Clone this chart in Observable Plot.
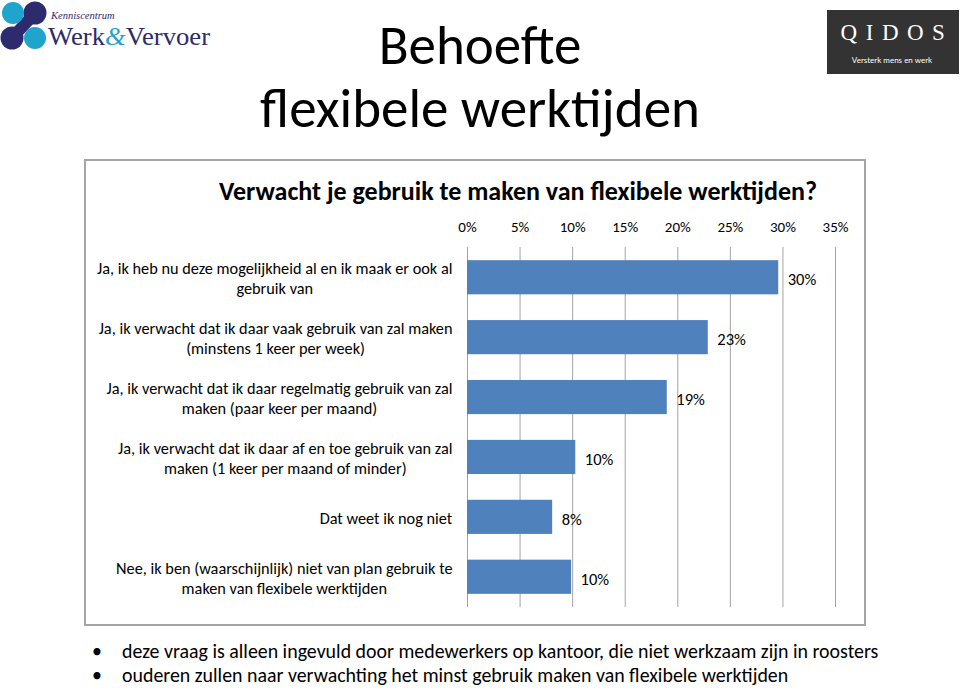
<!DOCTYPE html>
<html>
<head>
<meta charset="utf-8">
<script src="https://cdn.jsdelivr.net/npm/d3@7"></script>
<script src="https://cdn.jsdelivr.net/npm/@observablehq/plot@0.6"></script>
<style>
  body { margin: 0; background: #fff; }
  #page { position: relative; width: 960px; height: 688px; overflow: hidden; background: #fff;
          font-family: Calibri, Carlito, Lato, "Open Sans", sans-serif; color: #000; }
  .slide-title { position: absolute; left: 0; width: 960px; text-align: center; font-size: 55px; line-height: 1; white-space: nowrap; }
  #box { position: absolute; left: 84px; top: 159px; width: 782px; height: 467px; box-sizing: border-box;
         border: 2px solid #a5a5a5; }
  #chart-title { position: absolute; left: 43px; width: 778px; top: 15px; text-align: center; font-weight: bold;
                 font-size: 26px; line-height: 1.2; white-space: nowrap; }
  #plot { position: absolute; left: 0; top: 44px; }
  #bullets { position: absolute; left: 92px; top: 639px; margin: 0; padding: 0; list-style: none;
             font-size: 19.9px; line-height: 24px; white-space: nowrap; }
  #bullets li { position: relative; padding-left: 30px; }
  #bullets li::before { content: "•"; position: absolute; left: 0; }
</style>
</head>
<body>
<div id="page">
  <!-- Kenniscentrum Werk & Vervoer logo -->
  <svg style="position:absolute;left:0;top:0" width="220" height="60">
    <line x1="35" y1="13" x2="12" y2="38" stroke="#2d2a6e" stroke-width="12"/>
    <circle cx="35" cy="13" r="11.5" fill="#2d2a6e"/>
    <circle cx="12" cy="38" r="11.5" fill="#2d2a6e"/>
    <circle cx="13" cy="13" r="11" fill="#1fa4cc"/>
    <circle cx="35" cy="38" r="11" fill="#1fa4cc"/>
    <text x="51" y="19" font-family="Liberation Serif, serif" font-style="italic" font-size="10.5" fill="#2d2a6e">Kenniscentrum</text>
    <text x="48" y="45" font-family="Liberation Serif, serif" font-size="26" fill="#2d2a6e" textLength="162" lengthAdjust="spacingAndGlyphs">Werk<tspan fill="#1fa4cc" font-style="italic">&amp;</tspan>Vervoer</text>
  </svg>
  <!-- QIDOS logo -->
  <svg style="position:absolute;left:827px;top:10px" width="132" height="64">
    <rect x="0" y="0" width="132" height="64" fill="#333"/>
    <text x="70" y="30" text-anchor="middle" font-family="Liberation Serif, serif" font-size="23" letter-spacing="8.5" fill="#fff">QIDOS</text>
    <text x="65" y="53" text-anchor="middle" font-family="Lato, sans-serif" font-size="8" fill="#fff">Versterk mens en werk</text>
  </svg>

  <div class="slide-title" style="top:18px">Behoefte</div>
  <div class="slide-title" style="top:81px">flexibele werktijden</div>

  <div id="box">
    <div id="chart-title">Verwacht je gebruik te maken van flexibele werktijden?</div>
    <div id="plot"></div>
  </div>

  <ul id="bullets">
    <li>deze vraag is alleen ingevuld door medewerkers op kantoor, die niet werkzaam zijn in roosters</li>
    <li>ouderen zullen naar verwachting het minst gebruik maken van flexibele werktijden</li>
  </ul>
</div>

<script>
// ---- data ----
const categories = [
  "Ja, ik heb nu deze mogelijkheid al en ik maak er ook al\ngebruik van",
  "Ja, ik verwacht dat ik daar vaak gebruik van zal maken\n(minstens 1 keer per week)",
  "Ja, ik verwacht dat ik daar regelmatig gebruik van zal\nmaken (paar keer per maand)",
  "Ja, ik verwacht dat ik daar af en toe gebruik van zal\nmaken (1 keer per maand of minder)",
  "Dat weet ik nog niet",
  "Nee, ik ben (waarschijnlijk) niet van plan gebruik te\nmaken van flexibele werktijden"
];
const values = [29.6, 22.9, 19.0, 10.3, 8.1, 9.9];
const valueLabels = ["30%", "23%", "19%", "10%", "8%", "10%"];
const xTicks = [0, 5, 10, 15, 20, 25, 30, 35];

const rows = categories.map((c, i) => ({category: c, value: values[i], label: valueLabels[i]}));
const font = "Calibri, Carlito, Lato, 'Open Sans', sans-serif";

const chart = Plot.plot({
  width: 778,
  height: 415,
  marginLeft: 381,
  marginRight: 29,
  marginTop: 42,
  marginBottom: 13,
  style: {fontFamily: font, fontSize: "15px", color: "#000", background: "transparent"},
  x: {domain: [0, 35], ticks: xTicks, tickFormat: d => d + "%", axis: "top", label: null, tickSize: 0, tickPadding: 16},
  y: {domain: categories, paddingInner: 0.43, paddingOuter: 0.22, round: false, axis: null},
  marks: [
    Plot.gridX(xTicks, {stroke: "#a3a3a3", strokeOpacity: 1, strokeWidth: 1}),
    Plot.barX(rows, {x: "value", y: "category", fill: "#4F81BD"}),
    Plot.text(rows, {x: "value", y: "category", text: "label", textAnchor: "start", dx: 9, dy: 2, fontSize: 16.5, fill: "#000"}),
    Plot.text(rows, {x: () => 0, y: "category", text: "category", textAnchor: "middle", lineHeight: 1.23, fontSize: 16.3, fill: "#000"})
  ]
});
document.getElementById("plot").appendChild(chart);

// Lay out category labels like the original: each block right-aligned to the axis, lines centred within it.
const catSet = new Set(categories.map(c => c.replace(/\n/g, "")));
function layoutLabels() {
  chart.querySelectorAll("text").forEach(t => {
    if (!catSet.has(t.textContent.replace(/\n/g, ""))) return;
    if (t.dataset.shifted) return;
    const w = t.getBBox().width;
    const tr = t.getAttribute("transform") || "";
    t.setAttribute("transform", tr + ` translate(${-(15 + w / 2)},0)`);
    t.dataset.shifted = "1";
  });
}
layoutLabels();
if (document.fonts && document.fonts.ready) document.fonts.ready.then(() => {
  chart.querySelectorAll("text").forEach(t => {
    if (t.dataset.shifted) { t.setAttribute("transform", t.getAttribute("transform").replace(/ translate\([^)]*\)$/, "")); delete t.dataset.shifted; }
  });
  layoutLabels();
});
</script>
</body>
</html>
